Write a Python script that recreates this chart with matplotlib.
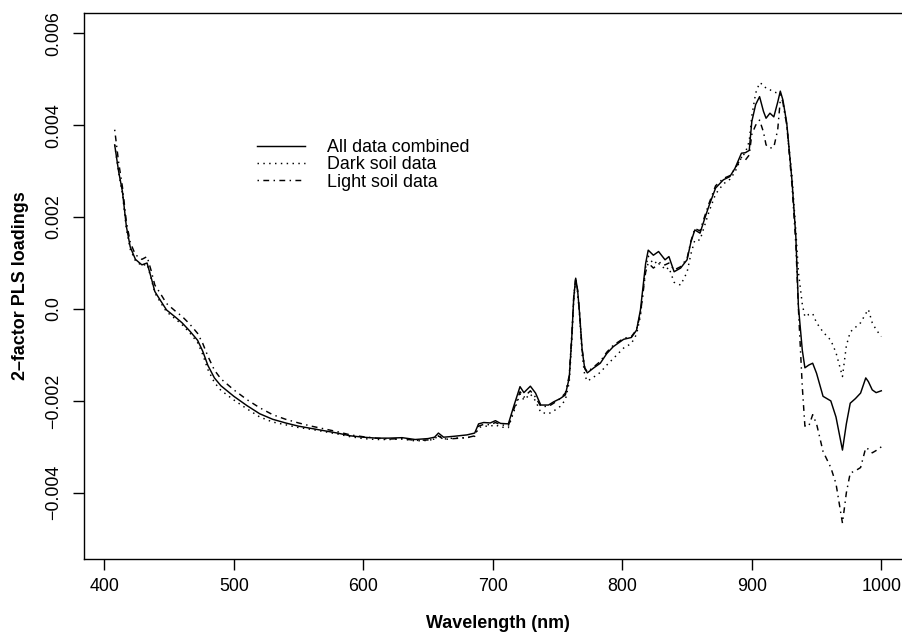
import matplotlib
matplotlib.use("Agg")
import matplotlib.pyplot as plt

wavelength = [408, 411, 414, 417, 420, 424, 429, 433, 436, 439, 443, 448, 455, 460, 466, 472, 476, 480, 485, 490,
              500, 510, 520, 530, 540, 550, 560, 570, 580, 590, 600, 610, 620, 630, 640, 650, 655, 658, 662, 670,
              680, 686, 689, 693, 698, 702, 706, 712, 716, 721, 724, 729, 733, 737, 743, 747, 752, 756, 759, 761,
              762.5, 764, 765.5, 767, 769, 771, 773, 778, 783, 788, 793, 801, 807, 811, 814, 818, 820, 824, 828, 833,
              836, 840, 845, 850, 853, 856, 860, 864, 867, 872, 878, 883, 887, 892, 895, 898, 900, 903, 906, 909,
              911, 914, 917, 920, 922, 924, 927, 931, 934, 936, 939, 941, 944, 947, 950, 955, 961, 965, 970, 973,
              976, 980, 984, 988, 990, 993, 996, 1000]

all_data = [0.00357, 0.00300, 0.00255, 0.00180, 0.00135, 0.00108, 0.00096, 0.00100, 0.00070, 0.00038,
            0.00020, -0.00002, -0.00018, -0.00030, -0.00048, -0.00068, -0.00092, -0.00123, -0.00150, -0.00167,
            -0.00190, -0.00210, -0.00228, -0.00240, -0.00248, -0.00255, -0.00260, -0.00265, -0.00270, -0.00276,
            -0.00279, -0.00281, -0.00281, -0.00280, -0.00284, -0.00282, -0.00279, -0.00270, -0.00279, -0.00277,
            -0.00274, -0.00270, -0.00250, -0.00247, -0.00248, -0.00243, -0.00249, -0.00250, -0.00213, -0.00169,
            -0.00182, -0.00168, -0.00183, -0.00209, -0.00209, -0.00202, -0.00195, -0.00187, -0.00150, -0.00060,
            0.00025, 0.00067, 0.00040, -0.00010, -0.00090, -0.00130, -0.00139, -0.00128, -0.00118, -0.00097,
            -0.00082, -0.00066, -0.00062, -0.00046, -0.00002, 0.00099, 0.00128, 0.00117, 0.00125, 0.00107,
            0.00114, 0.00081, 0.00089, 0.00107, 0.00146, 0.00172, 0.00165, 0.00200, 0.00225, 0.00263,
            0.00281, 0.00288, 0.00306, 0.00339, 0.00340, 0.00345, 0.00408, 0.00445, 0.00462, 0.00430,
            0.00415, 0.00426, 0.00418, 0.00450, 0.00474, 0.00455, 0.00404, 0.00280, 0.00157, 0.00005,
            -0.00090, -0.00128, -0.00122, -0.00118, -0.00140, -0.00190, -0.00200, -0.00235, -0.00307, -0.00250,
            -0.00205, -0.00195, -0.00183, -0.00150, -0.00158, -0.00176, -0.00182, -0.00178]

dark_soil = [0.00357, 0.00298, 0.00250, 0.00175, 0.00130, 0.00105, 0.00094, 0.00098, 0.00068, 0.00035,
             0.00016, -0.00006, -0.00022, -0.00034, -0.00052, -0.00073, -0.00099, -0.00132, -0.00160, -0.00177,
             -0.00198, -0.00217, -0.00235, -0.00246, -0.00252, -0.00258, -0.00262, -0.00267, -0.00272, -0.00278,
             -0.00282, -0.00284, -0.00284, -0.00283, -0.00287, -0.00286, -0.00283, -0.00275, -0.00283, -0.00281,
             -0.00280, -0.00277, -0.00258, -0.00255, -0.00255, -0.00252, -0.00257, -0.00258, -0.00225, -0.00185,
             -0.00198, -0.00185, -0.00200, -0.00225, -0.00228, -0.00222, -0.00212, -0.00198, -0.00160, -0.00070,
             0.00020, 0.00062, 0.00035, -0.00015, -0.00100, -0.00145, -0.00157, -0.00148, -0.00138, -0.00122,
             -0.00108, -0.00085, -0.00075, -0.00055, -0.00015, 0.00090, 0.00115, 0.00098, 0.00105, 0.00085,
             0.00090, 0.00058, 0.00052, 0.00080, 0.00120, 0.00150, 0.00150, 0.00185, 0.00212, 0.00250,
             0.00272, 0.00282, 0.00298, 0.00330, 0.00340, 0.00365, 0.00420, 0.00470, 0.00492, 0.00488,
             0.00480, 0.00477, 0.00472, 0.00470, 0.00468, 0.00450, 0.00400, 0.00290, 0.00170, 0.00080,
             0.00010, -0.00017, -0.00012, -0.00010, -0.00030, -0.00050, -0.00068, -0.00095, -0.00147, -0.00080,
             -0.00050, -0.00040, -0.00030, -0.00010, -0.00001, -0.00030, -0.00045, -0.00060]

light_soil = [0.00390, 0.00320, 0.00265, 0.00190, 0.00145, 0.00118, 0.00108, 0.00114, 0.00085, 0.00052,
              0.00035, 0.00012, -0.00005, -0.00016, -0.00033, -0.00053, -0.00075, -0.00103, -0.00133, -0.00152,
              -0.00176, -0.00197, -0.00215, -0.00230, -0.00240, -0.00248, -0.00255, -0.00261, -0.00267, -0.00274,
              -0.00278, -0.00281, -0.00283, -0.00282, -0.00286, -0.00285, -0.00283, -0.00276, -0.00284, -0.00282,
              -0.00280, -0.00276, -0.00255, -0.00251, -0.00252, -0.00247, -0.00252, -0.00254, -0.00220, -0.00180,
              -0.00192, -0.00178, -0.00192, -0.00212, -0.00212, -0.00205, -0.00195, -0.00183, -0.00145, -0.00055,
              0.00028, 0.00068, 0.00040, -0.00008, -0.00088, -0.00128, -0.00137, -0.00126, -0.00114, -0.00094,
              -0.00079, -0.00064, -0.00060, -0.00045, -0.00010, 0.00080, 0.00100, 0.00089, 0.00098, 0.00096,
              0.00100, 0.00085, 0.00092, 0.00110, 0.00148, 0.00175, 0.00170, 0.00205, 0.00230, 0.00268,
              0.00284, 0.00290, 0.00305, 0.00330, 0.00324, 0.00335, 0.00380, 0.00400, 0.00411, 0.00385,
              0.00357, 0.00350, 0.00352, 0.00390, 0.00455, 0.00450, 0.00400, 0.00270, 0.00140, 0.00000,
              -0.00170, -0.00255, -0.00255, -0.00230, -0.00250, -0.00310, -0.00345, -0.00380, -0.00466, -0.00400,
              -0.00357, -0.00352, -0.00345, -0.00302, -0.00305, -0.00313, -0.00308, -0.00300]

series_labels = ["All data combined", "Dark soil data", "Light soil data"]
x_ticks = [400, 500, 600, 700, 800, 900, 1000]
y_ticks = [-0.004, -0.002, 0.0, 0.002, 0.004, 0.006]
y_tick_labels = ["\u22120.004", "\u22120.002", "0.0", "0.002", "0.004", "0.006"]

plt.rcParams['font.family'] = ['Liberation Sans', 'DejaVu Sans']
W, H = 902, 641
FS = 12.9
fig = plt.figure(figsize=(W / 100, H / 100), dpi=100)
ax = fig.add_axes([84 / W, 82 / H, 828 / W, 546 / H])

lw = 1.05
ax.plot(wavelength, all_data, color='black', lw=lw, linestyle='-', label=series_labels[0])
ax.plot(wavelength, dark_soil, color='black', lw=lw, linestyle=(0, (1, 3)), label=series_labels[1])
ax.plot(wavelength, light_soil, color='black', lw=lw, linestyle=(0, (1, 3, 4, 3)), label=series_labels[2])

ax.set_xlim(384.3, 1023.7)
ax.set_ylim(-0.00544, 0.00644)
ax.set_xticks(x_ticks)
ax.set_xticklabels([str(t) for t in x_ticks])
ax.set_yticks(y_ticks)
ax.set_yticklabels(y_tick_labels, rotation=90, va='center')

for s in ax.spines.values():
    s.set_linewidth(1.0)
ax.tick_params(axis='both', length=8, width=1.0, labelsize=FS, direction='out')
ax.tick_params(axis='x', pad=6)
ax.tick_params(axis='y', pad=8)

ax.set_xlabel("Wavelength (nm)", fontsize=FS, fontweight='bold', labelpad=14)
ax.set_ylabel("2\u2013factor PLS loadings", fontsize=FS, fontweight='bold', labelpad=11)

fs_px = FS / 0.72
leg = ax.legend(loc='upper left', bbox_to_anchor=(257 / W, 1 - 139 / H), bbox_transform=fig.transFigure,
                frameon=False, fontsize=FS, handlelength=48 / fs_px, handletextpad=22 / fs_px,
                labelspacing=0.02, borderpad=0, borderaxespad=0)

fig.savefig("out.png", dpi=100)
